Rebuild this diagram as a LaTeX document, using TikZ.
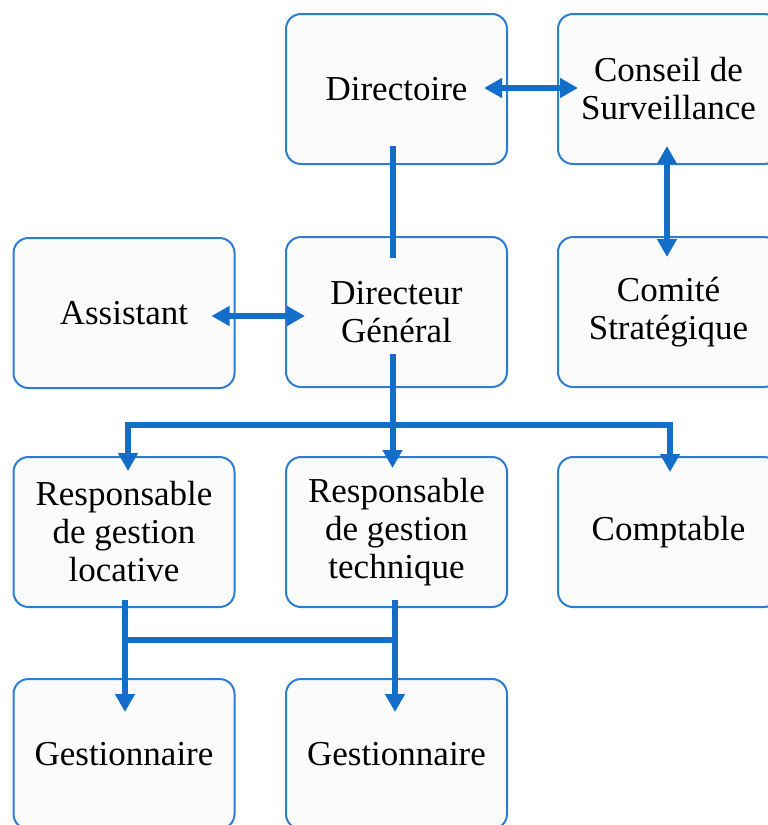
\documentclass[tikz,border=0pt]{standalone}
\usepackage{fontspec}
\setmainfont{Liberation Serif}
\usetikzlibrary{arrows.meta}
\definecolor{boxblue}{RGB}{45,125,210}
\definecolor{arrowblue}{RGB}{18,110,200}
\definecolor{boxfill}{RGB}{251,251,251}
\begin{document}
\begin{tikzpicture}[x=1pt,y=-1pt,
  orgbox/.style={draw=boxblue, line width=2pt, fill=boxfill, rounded corners=15pt,
    minimum width=221pt, minimum height=150pt, align=center, inner sep=0pt,
    font=\fontsize{35}{38}\selectfont},
  conn/.style={draw=arrowblue, line width=6pt},
  tipend/.style={-{Triangle[length=18pt,width=19pt]}},
  tipboth/.style={{Triangle[length=18pt,width=19pt]}-{Triangle[length=18pt,width=19pt]}}]
\useasboundingbox (0,0) rectangle (768,825);
% row 1
\node[orgbox] (dir) at (396.5,89) {Directoire};
\node[orgbox] (con) at (668.5,89) {Conseil de\\Surveillance};
% row 2
\node[orgbox] (asst) at (124,313) {Assistant};
\node[orgbox] (dg) at (396.5,312) {Directeur\\Général};
\node[orgbox] (com) at (668.5,312) {Comité\\Stratégique};
% row 3
\node[orgbox] (rl) at (124,532) {Responsable\\de gestion\\locative};
\node[orgbox] (rt) at (396.5,532) {Responsable\\de gestion\\technique};
\node[orgbox] (cpt) at (668.5,532) {Comptable};
% row 4
\node[orgbox] (g1) at (124,754) {Gestionnaire};
\node[orgbox] (g2) at (396.5,754) {Gestionnaire};
% connectors
\draw[conn,tipboth] ([xshift=-24pt,yshift=1pt]dir.east) -- ([xshift=21pt,yshift=1pt]con.west);
\draw[conn] ([xshift=-3.5pt,yshift=19pt]dir.south) -- ([xshift=-3.5pt,yshift=-22pt]dg.north);
\draw[conn,tipboth] ([xshift=-1.5pt,yshift=19pt]con.south) -- ([xshift=-1.5pt,yshift=-21pt]com.north);
\draw[conn,tipboth] ([xshift=-24pt,yshift=-3pt]asst.east) -- ([xshift=20pt,yshift=-4pt]dg.west);
\draw[conn,tipend] ([xshift=-4pt,yshift=34pt]dg.south) -- ([xshift=-4pt,yshift=-12pt]rt.north);
\draw[conn,tipboth] ([xshift=4pt,yshift=-15pt]rl.north) -- ([xshift=4pt,yshift=31pt]rl.north)
  -- ([xshift=1.5pt,yshift=31pt]cpt.north) -- ([xshift=1.5pt,yshift=-16pt]cpt.north);
\draw[conn,tipend] ([xshift=1pt,yshift=8pt]rl.south) -- ([xshift=1pt,yshift=-34pt]g1.north);
\draw[conn,tipend] ([xshift=-1.5pt,yshift=8pt]rt.south) -- ([xshift=-1.5pt,yshift=-34pt]g2.north);
\draw[conn] ([xshift=1pt,yshift=-32pt]rl.south) -- ([xshift=-1.5pt,yshift=-32pt]rt.south);
\end{tikzpicture}
\end{document}
